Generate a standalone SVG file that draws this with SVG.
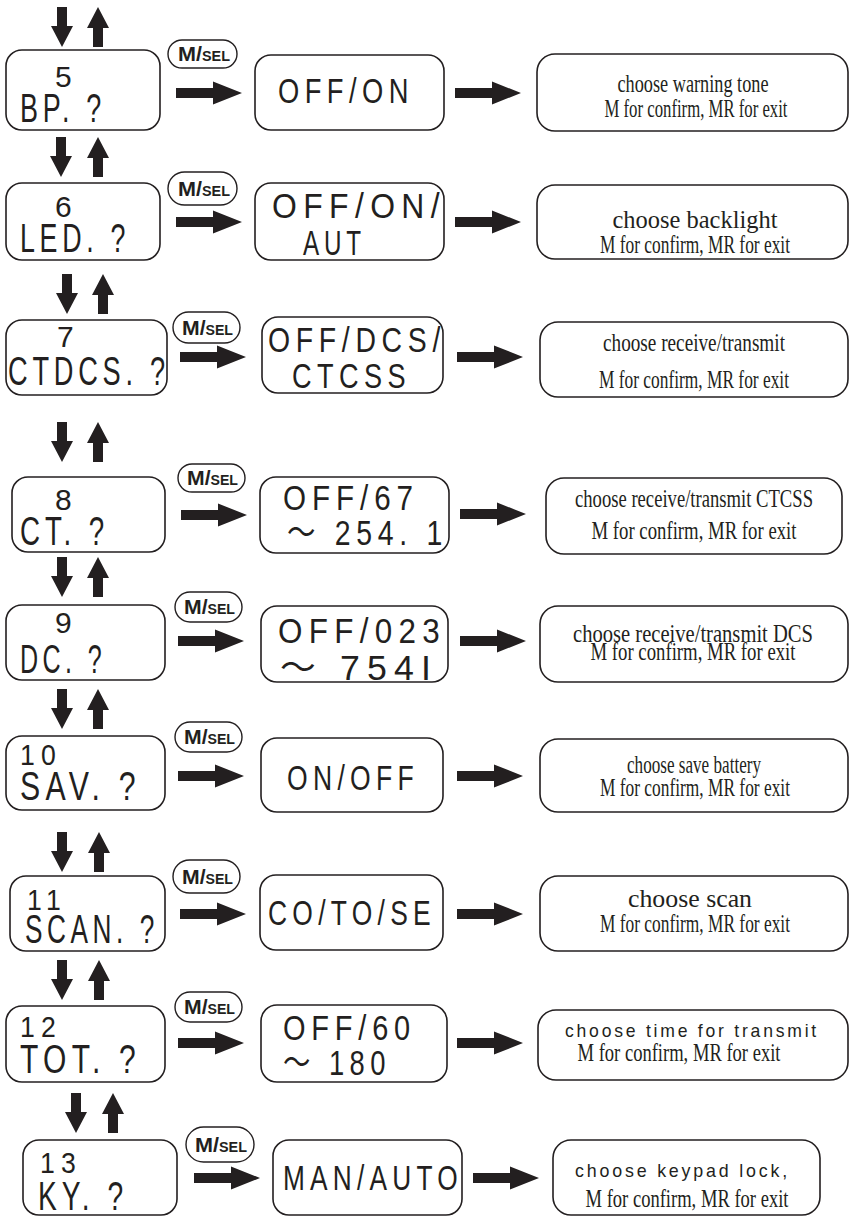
<svg xmlns="http://www.w3.org/2000/svg" width="851" height="1216" viewBox="0 0 851 1216">
<style>
.box{fill:#fff;stroke:#231f20;stroke-width:1.6}
.oval{fill:#fff;stroke:#231f20;stroke-width:1.4}
.arr{fill:#231f20}
.lcd{font-family:"Liberation Sans","Noto Sans CJK SC",sans-serif;fill:#231f20;letter-spacing:7px}
.num{font-size:30px}
.lbl{font-size:40px}
.val{font-size:35px}
.srf{font-family:"Liberation Serif",serif;font-size:26px;fill:#231f20;text-anchor:middle}
.sns{font-family:"Liberation Sans",sans-serif;font-size:19px;fill:#231f20;letter-spacing:3px}
.ms{font-family:"Liberation Sans",sans-serif;font-weight:bold;fill:#231f20}
</style>
<defs>
<path id="dn" d="M-5 0H5V19H11L0 40L-11 19H-5Z"/>
<path id="up" d="M0 0L11 21H5V40H-5V21H-11Z"/>
<path id="rt" d="M0 -5H37V-11.5L66 0L37 11.5V5H0Z"/>
</defs>

<g id="connectors" class="arr">
<use href="#dn" x="62" y="7"/><use href="#up" x="98" y="7"/>
<use href="#dn" x="61" y="137"/><use href="#up" x="98" y="137"/>
<use href="#dn" x="67" y="274"/><use href="#up" x="103" y="274"/>
<use href="#dn" x="62" y="422"/><use href="#up" x="98" y="422"/>
<use href="#dn" x="62" y="557"/><use href="#up" x="98" y="557"/>
<use href="#dn" x="62" y="689"/><use href="#up" x="98" y="689"/>
<use href="#dn" x="62" y="832"/><use href="#up" x="99" y="832"/>
<use href="#dn" x="62" y="960"/><use href="#up" x="99" y="960"/>
<use href="#dn" x="76" y="1093"/><use href="#up" x="113" y="1093"/>
<use href="#rt" x="176" y="93"/><use href="#rt" x="455" y="93"/>
<use href="#rt" x="176" y="222"/><use href="#rt" x="455" y="222"/>
<use href="#rt" x="180" y="357"/><use href="#rt" x="457" y="357"/>
<use href="#rt" x="181" y="515"/><use href="#rt" x="460" y="514"/>
<use href="#rt" x="178" y="641"/><use href="#rt" x="460" y="641"/>
<use href="#rt" x="178" y="776"/><use href="#rt" x="457" y="776"/>
<use href="#rt" x="180" y="914"/><use href="#rt" x="457" y="914"/>
<use href="#rt" x="178" y="1043"/><use href="#rt" x="457" y="1043"/>
<use href="#rt" x="194" y="1178"/><use href="#rt" x="473" y="1178"/>
<g id="ms5"><rect x="168" y="40" width="69" height="28" rx="14" class="oval"/><text class="ms" x="178" y="61" textLength="52" lengthAdjust="spacingAndGlyphs"><tspan font-size="21">M/</tspan><tspan font-size="14">SEL</tspan></text></g>
<g id="ms6"><rect x="168" y="172" width="69" height="33" rx="16.5" class="oval"/><text class="ms" x="178" y="196" textLength="52" lengthAdjust="spacingAndGlyphs"><tspan font-size="21">M/</tspan><tspan font-size="14">SEL</tspan></text></g>
<g id="ms7"><rect x="173" y="312" width="67" height="31" rx="15.5" class="oval"/><text class="ms" x="182" y="335" textLength="51" lengthAdjust="spacingAndGlyphs"><tspan font-size="21">M/</tspan><tspan font-size="14">SEL</tspan></text></g>
<g id="ms8"><rect x="178" y="464" width="67" height="28" rx="14" class="oval"/><text class="ms" x="187" y="485" textLength="51" lengthAdjust="spacingAndGlyphs"><tspan font-size="21">M/</tspan><tspan font-size="14">SEL</tspan></text></g>
<g id="ms9"><rect x="175" y="592" width="67" height="30" rx="15" class="oval"/><text class="ms" x="184" y="614" textLength="51" lengthAdjust="spacingAndGlyphs"><tspan font-size="21">M/</tspan><tspan font-size="14">SEL</tspan></text></g>
<g id="ms10"><rect x="175" y="722" width="67" height="30" rx="15" class="oval"/><text class="ms" x="184" y="744" textLength="51" lengthAdjust="spacingAndGlyphs"><tspan font-size="21">M/</tspan><tspan font-size="14">SEL</tspan></text></g>
<g id="ms11"><rect x="173" y="860" width="67" height="33" rx="16.5" class="oval"/><text class="ms" x="182" y="884" textLength="51" lengthAdjust="spacingAndGlyphs"><tspan font-size="21">M/</tspan><tspan font-size="14">SEL</tspan></text></g>
<g id="ms12"><rect x="175" y="992" width="67" height="30" rx="15" class="oval"/><text class="ms" x="184" y="1014" textLength="51" lengthAdjust="spacingAndGlyphs"><tspan font-size="21">M/</tspan><tspan font-size="14">SEL</tspan></text></g>
<g id="ms13"><rect x="186" y="1127" width="68" height="35" rx="17.5" class="oval"/><text class="ms" x="195" y="1152" textLength="52" lengthAdjust="spacingAndGlyphs"><tspan font-size="21">M/</tspan><tspan font-size="14">SEL</tspan></text></g>
</g>

<g id="menu5"><rect class="box" x="6" y="50" width="154" height="80" rx="16"/>
<text class="lcd num" x="55" y="87">5</text>
<text class="lcd lbl" x="20" y="122" textLength="86" lengthAdjust="spacingAndGlyphs">BP. ?</text></g>
<g id="opt5"><rect class="box" x="255" y="55" width="189" height="75" rx="16"/>
<text class="lcd val" x="278" y="103" textLength="136" lengthAdjust="spacingAndGlyphs">OFF/ON</text></g>
<g id="desc5"><rect class="box" x="537" y="54" width="311" height="77" rx="18"/>
<text class="srf" x="693" y="92" textLength="151" lengthAdjust="spacingAndGlyphs">choose warning tone</text>
<text class="srf" x="696" y="117" textLength="183" lengthAdjust="spacingAndGlyphs">M for confirm, MR for exit</text></g>

<g id="menu6"><rect class="box" x="6" y="183" width="154" height="77" rx="16"/>
<text class="lcd num" x="55" y="217">6</text>
<text class="lcd lbl" x="20" y="252" textLength="110" lengthAdjust="spacingAndGlyphs">LED. ?</text></g>
<g id="opt6"><rect class="box" x="255" y="183" width="189" height="77" rx="16"/>
<text class="lcd val" x="272" y="218" textLength="174" lengthAdjust="spacingAndGlyphs">OFF/ON/</text>
<text class="lcd val" x="303" y="255" textLength="63" lengthAdjust="spacingAndGlyphs">AUT</text></g>
<g id="desc6"><rect class="box" x="537" y="185" width="311" height="74" rx="18"/>
<text class="srf" x="695" y="228" font-size="27" textLength="165" lengthAdjust="spacingAndGlyphs">choose backlight</text>
<text class="srf" x="695" y="253" textLength="190" lengthAdjust="spacingAndGlyphs">M for confirm, MR for exit</text></g>

<g id="menu7"><rect class="box" x="6" y="320" width="161" height="75" rx="16"/>
<text class="lcd num" x="57" y="347">7</text>
<text class="lcd lbl" x="8" y="385" textLength="162" lengthAdjust="spacingAndGlyphs">CTDCS. ?</text></g>
<g id="opt7"><rect class="box" x="262" y="317" width="181" height="76" rx="16"/>
<text class="lcd val" x="268" y="352" textLength="178" lengthAdjust="spacingAndGlyphs">OFF/DCS/</text>
<text class="lcd val" x="292" y="388" textLength="119" lengthAdjust="spacingAndGlyphs">CTCSS</text></g>
<g id="desc7"><rect class="box" x="540" y="322" width="308" height="75" rx="18"/>
<text class="srf" x="694" y="351" textLength="182" lengthAdjust="spacingAndGlyphs">choose receive/transmit</text>
<text class="srf" x="694" y="388" textLength="190" lengthAdjust="spacingAndGlyphs">M for confirm, MR for exit</text></g>

<g id="menu8"><rect class="box" x="12" y="477" width="153" height="75" rx="16"/>
<text class="lcd num" x="55" y="510">8</text>
<text class="lcd lbl" x="20" y="545" textLength="89" lengthAdjust="spacingAndGlyphs">CT. ?</text></g>
<g id="opt8"><rect class="box" x="260" y="477" width="189" height="76" rx="16"/>
<text class="lcd val" x="283" y="510" textLength="136" lengthAdjust="spacingAndGlyphs">OFF/67</text>
<text class="lcd val" x="287" y="545" textLength="161" lengthAdjust="spacingAndGlyphs">～ 254. 1</text></g>
<g id="desc8"><rect class="box" x="546" y="478" width="296" height="76" rx="18"/>
<text class="srf" x="694" y="507" textLength="238" lengthAdjust="spacingAndGlyphs">choose receive/transmit CTCSS</text>
<text class="srf" x="694" y="539" textLength="205" lengthAdjust="spacingAndGlyphs">M for confirm, MR for exit</text></g>

<g id="menu9"><rect class="box" x="6" y="605" width="159" height="75" rx="16"/>
<text class="lcd num" x="55" y="633">9</text>
<text class="lcd lbl" x="20" y="673" textLength="86" lengthAdjust="spacingAndGlyphs">DC. ?</text></g>
<g id="opt9"><rect class="box" x="261" y="606" width="187" height="76" rx="16"/>
<text class="lcd val" x="278" y="643" textLength="168" lengthAdjust="spacingAndGlyphs">OFF/023</text>
<text class="lcd val" x="280" y="680" textLength="158" lengthAdjust="spacingAndGlyphs">～ 754I</text></g>
<g id="desc9"><rect class="box" x="540" y="606" width="308" height="76" rx="18"/>
<text class="srf" x="693" y="642" font-size="23" textLength="240" lengthAdjust="spacingAndGlyphs">choose receive/transmit DCS</text>
<text class="srf" x="693" y="660" font-size="23" textLength="205" lengthAdjust="spacingAndGlyphs">M for confirm, MR for exit</text></g>

<g id="menu10"><rect class="box" x="6" y="736" width="159" height="74" rx="16"/>
<text class="lcd num" x="20" y="765" textLength="42" lengthAdjust="spacingAndGlyphs">10</text>
<text class="lcd lbl" x="20" y="800" textLength="121" lengthAdjust="spacingAndGlyphs">SAV. ?</text></g>
<g id="opt10"><rect class="box" x="261" y="738" width="182" height="74" rx="16"/>
<text class="lcd val" x="287" y="790" textLength="132" lengthAdjust="spacingAndGlyphs">ON/OFF</text></g>
<g id="desc10"><rect class="box" x="540" y="739" width="308" height="73" rx="18"/>
<text class="srf" x="694" y="773" textLength="134" lengthAdjust="spacingAndGlyphs">choose save battery</text>
<text class="srf" x="695" y="796" textLength="190" lengthAdjust="spacingAndGlyphs">M for confirm, MR for exit</text></g>

<g id="menu11"><rect class="box" x="10" y="876" width="155" height="75" rx="16"/>
<text class="lcd num" x="27" y="910" textLength="40" lengthAdjust="spacingAndGlyphs">11</text>
<text class="lcd lbl" x="25" y="943" textLength="134" lengthAdjust="spacingAndGlyphs">SCAN. ?</text></g>
<g id="opt11"><rect class="box" x="260" y="875" width="183" height="75" rx="16"/>
<text class="lcd val" x="268" y="925" textLength="168" lengthAdjust="spacingAndGlyphs">CO/TO/SE</text></g>
<g id="desc11"><rect class="box" x="540" y="876" width="308" height="75" rx="18"/>
<text class="srf" x="690" y="907" font-size="27" textLength="124" lengthAdjust="spacingAndGlyphs">choose scan</text>
<text class="srf" x="695" y="932" textLength="190" lengthAdjust="spacingAndGlyphs">M for confirm, MR for exit</text></g>

<g id="menu12"><rect class="box" x="6" y="1006" width="159" height="76" rx="16"/>
<text class="lcd num" x="20" y="1037" textLength="42" lengthAdjust="spacingAndGlyphs">12</text>
<text class="lcd lbl" x="20" y="1073" textLength="121" lengthAdjust="spacingAndGlyphs">TOT. ?</text></g>
<g id="opt12"><rect class="box" x="261" y="1005" width="186" height="77" rx="16"/>
<text class="lcd val" x="283" y="1040" textLength="133" lengthAdjust="spacingAndGlyphs">OFF/60</text>
<text class="lcd val" x="283" y="1075" textLength="108" lengthAdjust="spacingAndGlyphs">～ 180</text></g>
<g id="desc12"><rect class="box" x="538" y="1010" width="310" height="70" rx="18"/>
<text class="sns" x="565" y="1037" font-size="19" textLength="254" lengthAdjust="spacingAndGlyphs">choose time for transmit</text>
<text class="srf" x="679" y="1061" textLength="203" lengthAdjust="spacingAndGlyphs">M for confirm, MR for exit</text></g>

<g id="menu13"><rect class="box" x="23" y="1140" width="154" height="75" rx="16"/>
<text class="lcd num" x="40" y="1173" textLength="42" lengthAdjust="spacingAndGlyphs">13</text>
<text class="lcd lbl" x="38" y="1210" textLength="90" lengthAdjust="spacingAndGlyphs">KY. ?</text></g>
<g id="opt13"><rect class="box" x="273" y="1140" width="189" height="75" rx="16"/>
<text class="lcd val" x="283" y="1190" textLength="180" lengthAdjust="spacingAndGlyphs">MAN/AUTO</text></g>
<g id="desc13"><rect class="box" x="553" y="1140" width="267" height="75" rx="18"/>
<text class="sns" x="575" y="1177" font-size="20" textLength="215" lengthAdjust="spacingAndGlyphs">choose keypad lock,</text>
<text class="srf" x="687" y="1207" textLength="203" lengthAdjust="spacingAndGlyphs">M for confirm, MR for exit</text></g>
</svg>
